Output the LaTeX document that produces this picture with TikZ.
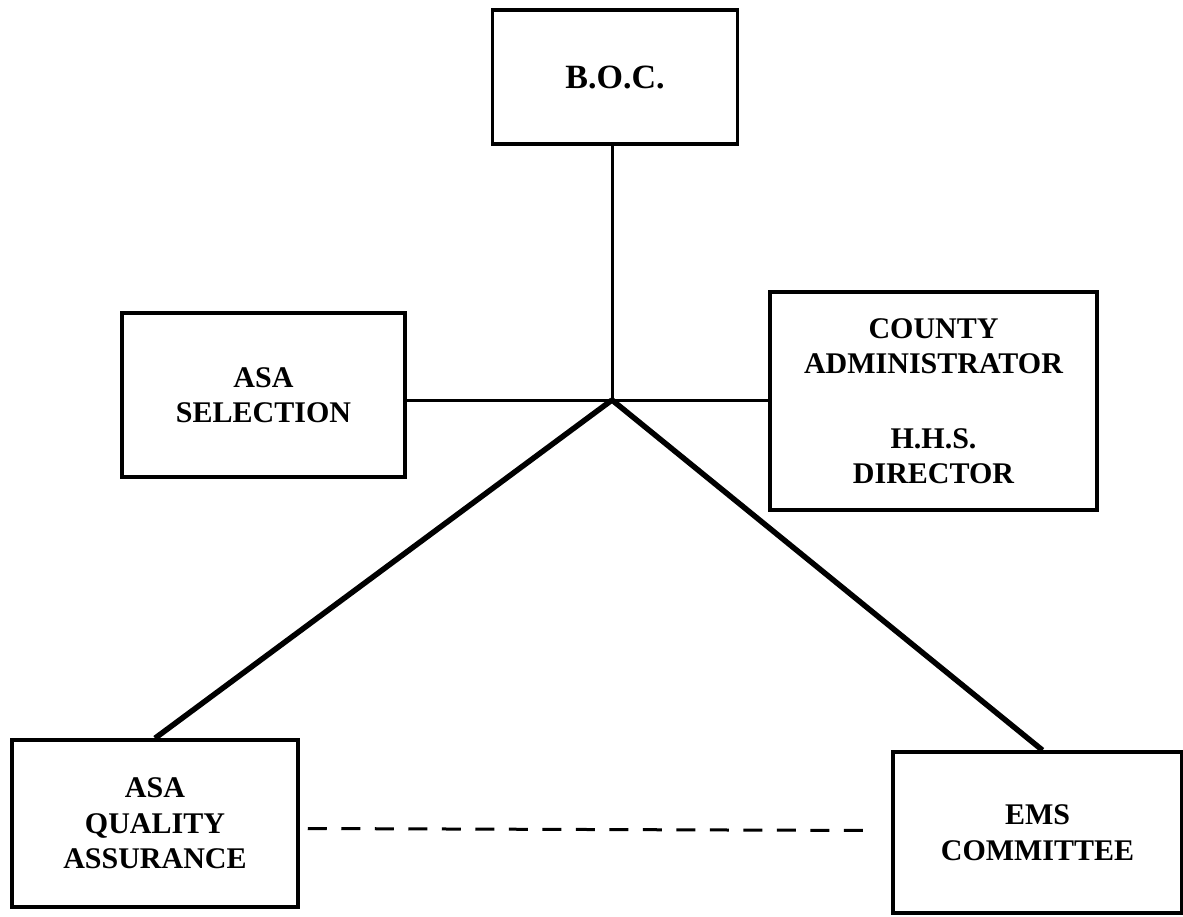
\documentclass[tikz,border=0pt]{standalone}
\usepackage{fontspec}
\setmainfont{Liberation Serif}
\begin{document}
\begin{tikzpicture}[x=1pt,y=-1pt,
  box/.style={draw, line width=3.5pt, inner sep=0pt, align=center,
    font=\fontsize{30}{35.5}\selectfont\bfseries},
  thin/.style={line width=3pt},
  thick/.style={line width=5.5pt},
  dashline/.style={line width=3pt, dash pattern=on 19pt off 14.5pt}]
\useasboundingbox (0,0) rectangle (1183,917);
\node[box, minimum width=245pt, minimum height=134pt, font=\fontsize{34}{40}\selectfont\bfseries] (boc) at (615,77) {B.O.C.};
\node[box, minimum width=283pt, minimum height=164pt] (sel) at (263.5,395) {ASA\\SELECTION};
\node[box, minimum width=327pt, minimum height=218pt] (cty) at (933.5,401) {COUNTY\\ADMINISTRATOR\\[39pt]H.H.S.\\DIRECTOR};
\node[box, minimum width=286pt, minimum height=167pt] (qa) at (155,823.5) {ASA\\QUALITY\\ASSURANCE};
\node[box, minimum width=289pt, minimum height=161pt] (ems) at (1037.5,832.5) {EMS\\COMMITTEE};
\coordinate (J) at (612,400);
\draw[thin] (J |- boc.south) -- (J);
\draw[thin] (J -| sel.east) -- (J) -- (J -| cty.west);
\draw[thick] (J) -- (qa.north);
\draw[thick] (J) -- ([xshift=5pt]ems.north);
\draw[dashline] ([shift={(8,5)}]qa.east) -- ([shift={(-22,-2)}]ems.west);
\end{tikzpicture}
\end{document}
